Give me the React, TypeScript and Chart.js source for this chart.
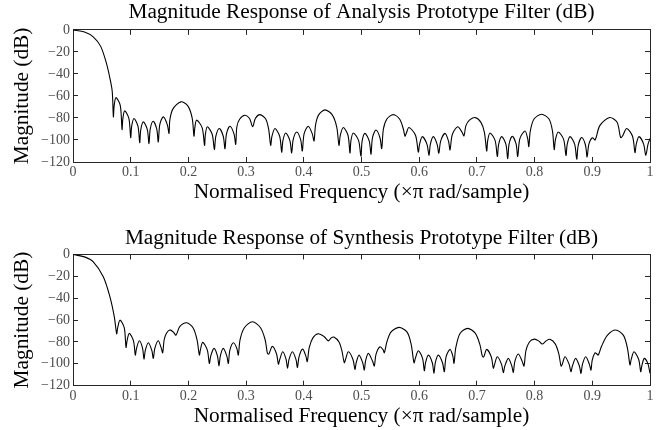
import React, { useEffect, useRef } from "react";
import { Chart, registerables } from "chart.js";

Chart.register(...registerables);

// ---------- data (nulls, lobe shoulders and peaks) ----------
const analysisFreq = [
  0, 0.02, 0.035, 0.048, 0.058, 0.064, 0.068, 0.07,
  0.0714, 0.0745, 0.0819, 0.085,
  0.0864, 0.0896, 0.0969, 0.1,
  0.1017, 0.1057, 0.1126, 0.1156,
  0.1175, 0.122, 0.1288, 0.1317,
  0.1339, 0.139, 0.1451, 0.1478,
  0.1504, 0.1565, 0.1634, 0.1664,
  0.1678, 0.173, 0.187, 0.199, 0.2065, 0.2097,
  0.2111, 0.2143, 0.2239, 0.228,
  0.2294, 0.2328, 0.2413, 0.245,
  0.2476, 0.2536, 0.2604, 0.2634,
  0.266, 0.272, 0.279, 0.282,
  0.284, 0.289, 0.298, 0.306, 0.3114, 0.316, 0.324, 0.334, 0.339, 0.3426,
  0.3448, 0.35, 0.3582, 0.3617,
  0.3638, 0.3686, 0.3759, 0.379,
  0.3816, 0.3877, 0.3945, 0.3974,
  0.4005, 0.4078, 0.4147, 0.4177,
  0.4205, 0.426, 0.4367, 0.449, 0.457, 0.461,
  0.4633, 0.4685, 0.4766, 0.48,
  0.4817, 0.4858, 0.495, 0.499,
  0.5011, 0.506, 0.5134, 0.5165,
  0.519, 0.525, 0.532, 0.535,
  0.538, 0.544, 0.555, 0.566, 0.5725, 0.5754,
  0.5775, 0.5823, 0.5936, 0.5985,
  0.6006, 0.6054, 0.6135, 0.617,
  0.6193, 0.6245, 0.6311, 0.634,
  0.6372, 0.6447, 0.6508, 0.6534,
  0.6574, 0.6667, 0.6743, 0.6776,
  0.681, 0.687, 0.6967, 0.707, 0.713, 0.717,
  0.7187, 0.7227, 0.7316, 0.7354,
  0.7377, 0.743, 0.7503, 0.7534,
  0.7558, 0.7614, 0.7679, 0.7707,
  0.7745, 0.7834, 0.788, 0.79,
  0.7925, 0.799, 0.812, 0.825, 0.831, 0.834,
  0.8361, 0.841, 0.8504, 0.8544,
  0.8565, 0.8614, 0.8695, 0.873,
  0.8756, 0.8816, 0.8882, 0.891,
  0.894, 0.9, 0.905, 0.913, 0.93, 0.943, 0.949,
  0.9522, 0.9596, 0.9697, 0.974,
  0.9761, 0.981, 0.9891, 0.9926,
  0.9965, 1.0,
];
const analysisMag = [
  0, -2, -6.4, -15, -30.5, -44, -56, -79,
  -68.5, -61.5, -68.5, -90.5,
  -80.6, -73.6, -80.6, -97.8,
  -87.5, -80.5, -87.5, -102.4,
  -90.6, -83.6, -90.6, -103.3,
  -90, -83, -90, -101.8,
  -86, -79, -86, -94,
  -82, -72, -65.4, -69, -80, -96.6,
  -89, -82, -89, -104.8,
  -95, -88, -95, -108.7,
  -96.6, -89.6, -96.6, -108,
  -94.5, -87.5, -94.5, -104,
  -88, -81, -77.5, -80.5, -88, -80.5, -77, -81, -90, -104.8,
  -96.6, -89.6, -96.6, -111,
  -100.6, -93.6, -100.6, -111.8,
  -99.7, -92.7, -99.7, -110,
  -94.5, -87.5, -94.5, -100.9,
  -86, -77, -72.7, -77, -88, -104.8,
  -95.7, -88.7, -95.7, -111.8,
  -100.6, -93.6, -100.6, -114.8,
  -101, -94, -101, -113,
  -98, -91, -98, -107.8,
  -90, -81, -77, -81, -90, -96.6,
  -94, -88.7, -95.7, -111,
  -104, -97, -104, -114,
  -104, -97, -104, -112,
  -101, -94, -101, -109,
  -95, -88, -93, -96.3,
  -87, -82, -79.6, -84, -93, -110,
  -100.6, -93.6, -100.6, -115,
  -104, -97, -104, -117,
  -103.6, -96.6, -103.6, -115,
  -98.8, -91.8, -98.8, -106,
  -92, -81, -76.6, -81, -92, -108.7,
  -99.7, -92.7, -99.7, -114,
  -104, -97, -104, -117.5,
  -104.8, -97.8, -104.8, -115.5,
  -104, -98, -100, -87, -79.6, -84, -97.8,
  -96.6, -89.6, -96.6, -111.5,
  -104, -97, -104, -114,
  -104, -98.7,
];

const synthesisFreq = [
  0, 0.02, 0.0352, 0.0525, 0.064, 0.0716, 0.0757,
  0.0774, 0.0815, 0.0888, 0.0919,
  0.0936, 0.0976, 0.1049, 0.108,
  0.1101, 0.115, 0.1206, 0.123,
  0.1253, 0.1305, 0.1366, 0.1392,
  0.1418, 0.1478, 0.1531, 0.1554,
  0.158, 0.162, 0.168, 0.174, 0.1785, 0.185, 0.197, 0.208, 0.215, 0.219,
  0.2207, 0.2248, 0.2328, 0.2363,
  0.2387, 0.2444, 0.2504, 0.253,
  0.2553, 0.2605, 0.2666, 0.2692,
  0.2718, 0.278, 0.284, 0.2865,
  0.2895, 0.297, 0.311, 0.325, 0.333, 0.337,
  0.3395, 0.3454, 0.3528, 0.356,
  0.3583, 0.3635, 0.3693, 0.3718,
  0.3744, 0.3803, 0.3864, 0.389,
  0.3917, 0.398, 0.4036, 0.406,
  0.4095, 0.416, 0.4252, 0.435, 0.4426, 0.447, 0.452, 0.461, 0.466, 0.4702,
  0.4723, 0.4772, 0.4852, 0.4887,
  0.4908, 0.4957, 0.5021, 0.5049,
  0.507, 0.5118, 0.5191, 0.5222,
  0.5251, 0.532, 0.5373, 0.5396,
  0.544, 0.551, 0.565, 0.579, 0.586, 0.591,
  0.5933, 0.5985, 0.6058, 0.6089,
  0.611, 0.6158, 0.6227, 0.6256,
  0.6279, 0.6331, 0.6404, 0.6435,
  0.6465, 0.6534, 0.6583, 0.6603,
  0.6635, 0.671, 0.684, 0.697, 0.705, 0.7094,
  0.7117, 0.717, 0.725, 0.7285,
  0.7306, 0.7354, 0.7427, 0.7458,
  0.7484, 0.7545, 0.7605, 0.7631,
  0.7657, 0.7718, 0.7787, 0.7816,
  0.785, 0.791, 0.7995, 0.807, 0.8133, 0.82, 0.8267, 0.836, 0.842, 0.8458,
  0.8479, 0.8527, 0.8599, 0.863,
  0.8655, 0.8712, 0.8776, 0.8804,
  0.8829, 0.8886, 0.895, 0.8977,
  0.8998, 0.9047, 0.908, 0.9104,
  0.916, 0.926, 0.9405, 0.954, 0.961, 0.9653,
  0.9674, 0.9723, 0.9804, 0.9839,
  0.9858, 0.9901, 0.9965, 1.0,
];
const synthesisMag = [
  0, -2.2, -6.7, -20.4, -38.7, -57, -72.5,
  -67, -60, -67, -85,
  -79.2, -72.2, -79.2, -92,
  -85.9, -78.9, -85.9, -95.6,
  -87.7, -80.7, -87.7, -95,
  -85.9, -78.9, -85.9, -89.9,
  -78, -72, -69, -71, -73.7, -66, -62.5, -67, -78, -92,
  -87.4, -80.4, -87.4, -99.6,
  -92.9, -85.9, -92.9, -102,
  -92.9, -85.9, -92.9, -99.6,
  -87.7, -80.7, -86, -92,
  -78, -67, -61.5, -67, -78, -90.5,
  -91, -84, -91, -100.3,
  -96, -89, -96, -104,
  -96, -89, -96, -103.3,
  -93.6, -86.6, -93, -98,
  -85, -76, -72.5, -75, -79, -76.5, -75.5, -80, -88, -99,
  -96, -89, -96, -105,
  -99, -92, -99, -105.7,
  -97.4, -90.4, -97.4, -102,
  -91.4, -84.4, -87, -89.9,
  -80, -71, -66.7, -71, -82, -99,
  -95, -88, -95, -106.3,
  -99, -92, -99, -108.7,
  -99, -92, -99, -107.2,
  -93.8, -86.8, -93, -99.5,
  -85, -72, -67.6, -72, -82, -92.9,
  -93.8, -86.8, -93.8, -104,
  -100.5, -93.5, -100.5, -108,
  -102, -95, -102, -107.8,
  -98, -91, -98, -102,
  -88, -80, -77.4, -79, -81.9, -79, -77.6, -82, -91, -102,
  -100.5, -93.5, -100.5, -107.2,
  -102, -95, -102, -108.7,
  -100.5, -93.5, -100.5, -105.7,
  -96.9, -89.9, -91, -92,
  -84, -74, -69.1, -74, -86, -101,
  -96, -89, -96, -107.2,
  -102, -95, -100, -108.7,
];

const xTickStep = 0.1;
const yTickStep = 20;
const yMin = -120;
const yMax = 0;

const analysisTitle = "Magnitude Response of Analysis Prototype Filter (dB)";
const synthesisTitle = "Magnitude Response of Synthesis Prototype Filter (dB)";
const xTitle = "Normalised Frequency (\u00D7\u03C0 rad/sample)";
const yTitle = "Magnitude (dB)";

// ---------- styling ----------
const FONT = "'Liberation Serif', 'Times New Roman', Times, serif";
const AXIS_COLOR = "#262626";
const TICK_LABEL_COLOR = "#4d4d4d";

type Geom = {
  titleTop: number;
  titleBottom: number;
  xHeight: number;
  xTickPad: number;
  xTitleBottom: number;
};

function makeConfig(freq: number[], mag: number[], title: string, g: Geom): any {
  const pts = freq.map((f, i) => ({ x: f, y: mag[i] }));
  const grid = {
    display: true,
    drawOnChartArea: false,
    drawTicks: true,
    tickLength: -5,
    color: AXIS_COLOR,
    lineWidth: 1,
  };
  const border = { display: true, color: AXIS_COLOR, width: 1 };
  const tickFont = { family: FONT, size: 14 };
  const titleFont = { family: FONT, size: 21.3, weight: "normal" as const };
  return {
    type: "line",
    data: {
      datasets: [
        {
          data: pts,
          borderColor: "#000",
          borderWidth: 1.1,
          pointRadius: 0,
          tension: 0.3,
          fill: false,
          xAxisID: "x",
          yAxisID: "y",
        },
      ],
    },
    options: {
      responsive: false,
      animation: false,
      devicePixelRatio: 1,
      layout: { padding: { left: 0, right: 20, top: 0, bottom: 0 } },
      plugins: {
        legend: { display: false },
        tooltip: { enabled: false },
        title: {
          display: true,
          text: title,
          fullSize: false,
          color: "#000",
          font: titleFont,
          padding: { top: g.titleTop, bottom: g.titleBottom },
        },
      },
      scales: {
        x: {
          type: "linear",
          position: "bottom",
          min: 0,
          max: 1,
          grid,
          border,
          ticks: {
            stepSize: xTickStep,
            autoSkip: false,
            maxRotation: 0,
            padding: g.xTickPad,
            color: TICK_LABEL_COLOR,
            font: tickFont,
            callback: (v: number) => String(Math.round(v * 10) / 10),
          },
          title: {
            display: true,
            text: xTitle,
            color: "#000",
            font: titleFont,
            padding: { top: 0, bottom: g.xTitleBottom },
          },
          afterFit: (s: any) => {
            s.height = g.xHeight;
          },
        },
        x2: {
          type: "linear",
          position: "top",
          min: 0,
          max: 1,
          grid,
          border,
          ticks: { display: false, stepSize: xTickStep },
          afterFit: (s: any) => {
            s.height = 0;
          },
        },
        y: {
          type: "linear",
          position: "left",
          min: yMin,
          max: yMax,
          grid,
          border,
          ticks: {
            stepSize: yTickStep,
            padding: 8,
            color: TICK_LABEL_COLOR,
            font: tickFont,
            callback: (v: number) => String(v).replace("-", "\u2212"),
          },
          title: {
            display: true,
            text: yTitle,
            color: "#000",
            font: titleFont,
            padding: { top: 9.2, bottom: 0 },
          },
          afterFit: (s: any) => {
            s.width = 73;
          },
        },
        y2: {
          type: "linear",
          position: "right",
          min: yMin,
          max: yMax,
          grid,
          border,
          ticks: { display: false, stepSize: yTickStep },
          afterFit: (s: any) => {
            s.width = 0;
          },
        },
      },
    },
  };
}

export default function App() {
  const topRef = useRef<HTMLCanvasElement>(null);
  const botRef = useRef<HTMLCanvasElement>(null);

  useEffect(() => {
    document.body.style.margin = "0";
    const c1 = new Chart(
      topRef.current as HTMLCanvasElement,
      makeConfig(analysisFreq, analysisMag, analysisTitle, {
        titleTop: 0.1,
        titleBottom: 4.2,
        xHeight: 53,
        xTickPad: 7.4,
        xTitleBottom: 10,
      })
    );
    const c2 = new Chart(
      botRef.current as HTMLCanvasElement,
      makeConfig(synthesisFreq, synthesisMag, synthesisTitle, {
        titleTop: 11.1,
        titleBottom: 2.8,
        xHeight: 44.3,
        xTickPad: 7.2,
        xTitleBottom: 1,
      })
    );
    return () => {
      c1.destroy();
      c2.destroy();
    };
  }, []);

  return (
    <div style={{ width: 670, height: 430, background: "#fff" }}>
      <canvas ref={topRef} width={670} height={215} style={{ display: "block", width: 670, height: 215 }} />
      <canvas ref={botRef} width={670} height={215} style={{ display: "block", width: 670, height: 215 }} />
    </div>
  );
}
